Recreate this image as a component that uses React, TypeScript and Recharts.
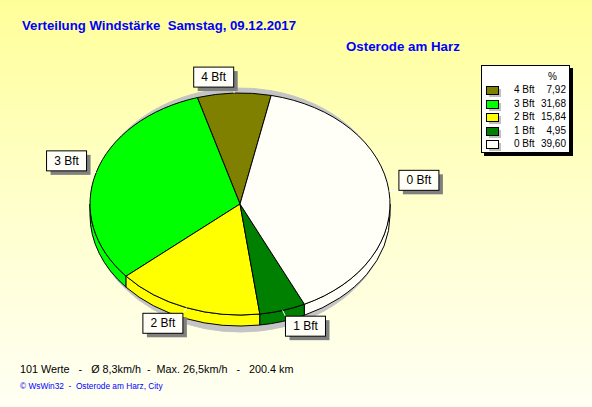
import { Pie, PieChart } from "recharts";

const classes = ["4 Bft", "3 Bft", "2 Bft", "1 Bft", "0 Bft"];
const percents = [7.92, 31.68, 15.84, 4.95, 39.6];
const percentLabels = ["7,92", "31,68", "15,84", "4,95", "39,60"];
const colors = ["#808000", "#00FF00", "#FFFF00", "#008000", "#FFFFF8"];

const data = classes.map((name, i) => ({ name, value: percents[i], fill: colors[i] }));

const CX = 240;
const CY = 204;
const RX = 150;
const RY = 111;
const DEPTH = 11;
const FONT = "'Liberation Sans', Arial, sans-serif";

const RAD = Math.PI / 180;
const pt = (cx: number, cy: number, a: number, ry = RY) => [cx + RX * Math.cos(a * RAD), cy - ry * Math.sin(a * RAD)];

const sectorPath = (cx: number, cy: number, s: number, e: number, ry = RY) => {
  const [x1, y1] = pt(cx, cy, s, ry);
  const [x2, y2] = pt(cx, cy, e, ry);
  const large = Math.abs(e - s) > 180 ? 1 : 0;
  return `M${cx},${cy} L${x1},${y1} A${RX},${ry} 0 ${large} 0 ${x2},${y2} Z`;
};

// top face of a slice, drawn as an ellipse sector
function TopSlice(props: any) {
  const { cx, cy, startAngle, endAngle, fill } = props;
  return <path d={sectorPath(cx, cy, startAngle, endAngle)} fill={fill} stroke="#000" strokeWidth={1} />;
}

// side wall, only where the rim faces the viewer
function SideSlice(props: any) {
  const { cx, cy, startAngle, endAngle, fill } = props;
  const parts: string[] = [];
  const s = Math.min(startAngle, endAngle);
  const e = Math.max(startAngle, endAngle);
  [
    [180, 360],
    [540, 720],
  ].forEach(([lo, hi]) => {
    const a = Math.max(s, lo);
    const b = Math.min(e, hi);
    if (b <= a) return;
    const [x1, y1] = pt(cx, cy, a);
    const [x2, y2] = pt(cx, cy, b);
    parts.push(
      `M${x1},${y1} A${RX},${RY} 0 0 0 ${x2},${y2} L${x2},${y2 + DEPTH} A${RX},${RY} 0 0 1 ${x1},${y1 + DEPTH} Z`
    );
  });
  if (!parts.length) return <g />;
  return <path d={parts.join(" ")} fill={fill} stroke="#000" strokeWidth={1} />;
}

function ShadowSlice(props: any) {
  const { cx, cy, startAngle, endAngle } = props;
  return <path d={sectorPath(cx, cy, startAngle, endAngle, RY + 11)} fill="#c4c4c4" stroke="#c4c4c4" strokeWidth={1} />;
}

function SliceLabel(props: any) {
  const { cx, cy, midAngle, name } = props;
  const c = Math.cos(midAngle * RAD);
  const s = Math.sin(midAngle * RAD);
  const [px, py] = pt(cx, cy, midAngle);
  const ax = cx + (RX + 10) * c;
  const ay = cy - (RY + 6) * s;
  const w = 40;
  const h = 20;
  const x0 = c >= 0 ? ax : ax - w;
  const y0 = s >= 0 ? ay - h : ay;
  return (
    <g>
      <line x1={px} y1={py} x2={ax} y2={ay} stroke="#fff" strokeWidth={1} />
      <rect x={x0 + 4} y={y0 + 4} width={w} height={h} fill="#808080" />
      <rect x={x0} y={y0} width={w} height={h} fill="#FFFFF8" stroke="#000" strokeWidth={1} />
      <text x={x0 + w / 2} y={y0 + h / 2 + 4} textAnchor="middle" fontSize={12} fontFamily={FONT} fill="#000">
        {name}
      </text>
    </g>
  );
}

const abs = (left: number, top: number, extra: any = {}) => ({
  position: "absolute" as const,
  left,
  top,
  whiteSpace: "pre" as const,
  fontFamily: FONT,
  ...extra,
});

export default function App() {
  return (
    <div
      style={{
        position: "relative",
        width: 592,
        height: 407,
        overflow: "hidden",
        background: "linear-gradient(to bottom, #FFFF99 0%, #FFFFCC 50%, #FFFFF4 100%)",
      }}
    >
      <style>{`body{margin:0}`}</style>
      <div style={abs(22, 18, { fontSize: 13.2, fontWeight: "bold", color: "#0000FF" })}>
        {"Verteilung Windstärke  Samstag, 09.12.2017"}
      </div>
      <div style={abs(346, 39, { fontSize: 13.3, fontWeight: "bold", color: "#0000FF" })}>Osterode am Harz</div>

      <div style={{ position: "absolute", left: 0, top: 0 }}>
        <PieChart width={592} height={407} margin={{ top: 0, right: 0, bottom: 0, left: 0 }}>
          <Pie
            data={data}
            dataKey="value"
            nameKey="name"
            cx={CX}
            cy={CY + 6}
            outerRadius={RX}
            startAngle={78}
            endAngle={438}
            isAnimationActive={false}
            shape={ShadowSlice}
            inactiveShape={ShadowSlice}
            activeShape={ShadowSlice}
          />
          <Pie
            data={data}
            dataKey="value"
            nameKey="name"
            cx={CX}
            cy={CY}
            outerRadius={RX}
            startAngle={78}
            endAngle={438}
            isAnimationActive={false}
            shape={SideSlice}
            inactiveShape={SideSlice}
            activeShape={SideSlice}
          />
          <Pie
            data={data}
            dataKey="value"
            nameKey="name"
            cx={CX}
            cy={CY}
            outerRadius={RX}
            startAngle={78}
            endAngle={438}
            isAnimationActive={false}
            shape={TopSlice}
            inactiveShape={TopSlice}
            activeShape={TopSlice}
            label={SliceLabel}
            labelLine={false}
          />
        </PieChart>
      </div>

      <div
        style={{
          position: "absolute",
          left: 481,
          top: 65,
          width: 87,
          height: 86,
          background: "#fff",
          border: "1px solid #000",
          boxShadow: "3px 3px 0 #000",
          fontFamily: FONT,
          fontSize: 10,
          lineHeight: "12px",
        }}
      >
        <div style={{ position: "absolute", left: 66, top: 5 }}>%</div>
        {classes.map((name, i) => (
          <div key={name} style={{ position: "absolute", left: 0, top: 18 + i * 13.6, width: 87, height: 12 }}>
            <div style={{ position: "absolute", left: 7, top: 5, width: 12, height: 8, background: "#c0c0c0" }} />
            <div
              style={{
                position: "absolute",
                left: 4,
                top: 2,
                width: 11,
                height: 7,
                background: colors[i],
                border: "1px solid #000",
              }}
            />
            <div style={{ position: "absolute", left: 32, top: 0 }}>{name}</div>
            <div style={{ position: "absolute", right: 3, top: 0 }}>{percentLabels[i]}</div>
          </div>
        ))}
      </div>

      <div style={abs(20, 363, { fontSize: 10.8, color: "#000" })}>
        {"101 Werte   -   Ø 8,3km/h  -  Max. 26,5km/h   -   200.4 km"}
      </div>
      <div style={abs(20, 381, { fontSize: 8.3, color: "#0000FF" })}>{"© WsWin32  -  Osterode am Harz, City"}</div>
    </div>
  );
}
